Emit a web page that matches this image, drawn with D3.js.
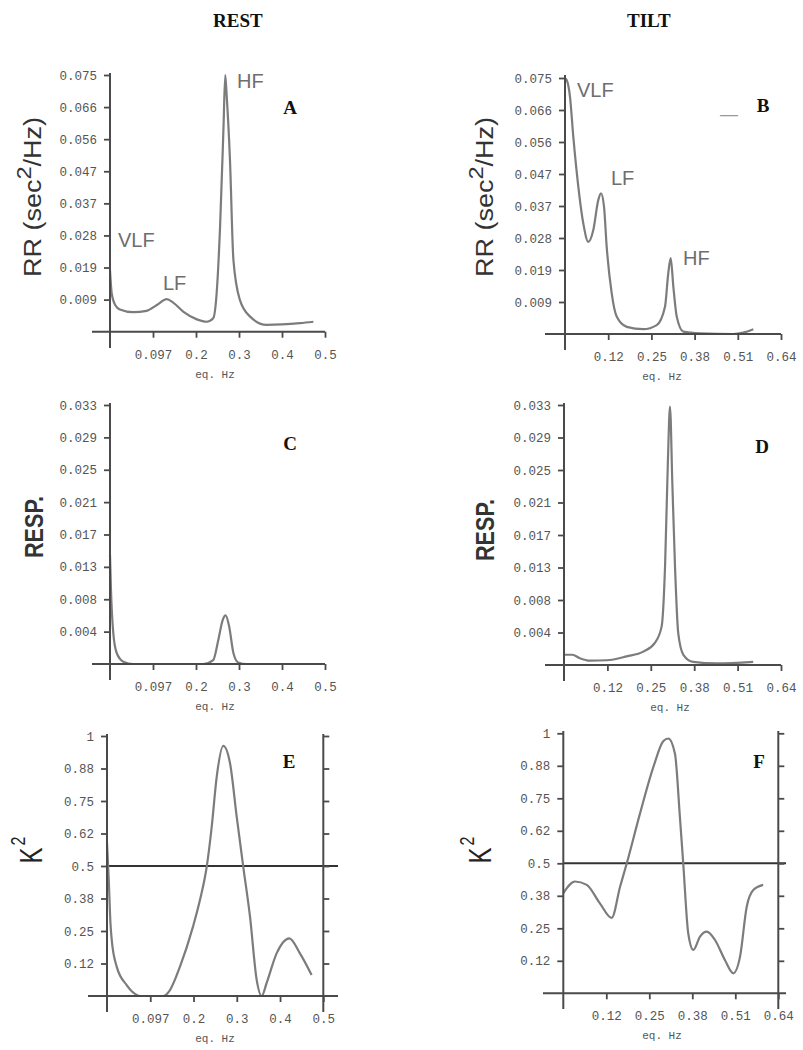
<!DOCTYPE html>
<html><head><meta charset="utf-8">
<script src="https://cdn.jsdelivr.net/npm/d3@7/dist/d3.min.js"></script>
<style>body{margin:0;background:#fff}</style>
</head><body>
<svg id="chart" width="803" height="1050"></svg>
<script>
// ---------------- DATA ----------------
const columnTitles = ["REST", "TILT"];
const panelLetters = ["A", "B", "C", "D", "E", "F"];

const restFreqMax = 0.5;
const tiltFreqMax = 0.64;
const restXTickLabels = ["0.097", "0.2", "0.3", "0.4", "0.5"];
const tiltXTickLabels = ["0.12", "0.25", "0.38", "0.51", "0.64"];

const rrMax = 0.075;
const rrYTickLabels = ["0.009", "0.019", "0.028", "0.037", "0.047", "0.056", "0.066", "0.075"];
const respMax = 0.033;
const respYTickLabels = ["0.004", "0.008", "0.013", "0.017", "0.021", "0.025", "0.029", "0.033"];
const k2Max = 1;
const k2YTickLabels = ["0.12", "0.25", "0.38", "0.5", "0.62", "0.75", "0.88", "1"];
const k2Threshold = 0.5;

// A: RR spectrum, rest
const rrRestFreq = [0, 0.004, 0.012, 0.023, 0.054, 0.085, 0.109, 0.132, 0.147, 0.171, 0.202, 0.225, 0.240, 0.248, 0.256, 0.264, 0.268, 0.271, 0.279, 0.287, 0.302, 0.326, 0.364, 0.442, 0.473];
const rrRestVal  = [0.018, 0.0112, 0.0078, 0.0065, 0.0057, 0.0061, 0.0078, 0.0095, 0.0085, 0.0058, 0.0036, 0.0029, 0.0039, 0.0112, 0.0307, 0.0599, 0.075, 0.0697, 0.0502, 0.021, 0.0093, 0.0044, 0.002, 0.0025, 0.0029];
// B: RR spectrum, tilt
const rrTiltFreq = [0, 0.005, 0.0148, 0.0246, 0.0394, 0.0542, 0.069, 0.0839, 0.0987, 0.1067, 0.1156, 0.1235, 0.1384, 0.1532, 0.1828, 0.232, 0.2717, 0.2963, 0.306, 0.3132, 0.321, 0.331, 0.3505, 0.4, 0.4987, 0.528, 0.558];
const rrTiltVal  = [0.0749, 0.0744, 0.0695, 0.0578, 0.0432, 0.0324, 0.027, 0.0305, 0.0393, 0.0412, 0.0373, 0.0256, 0.0119, 0.0051, 0.0021, 0.0014, 0.0026, 0.008, 0.0178, 0.0222, 0.0139, 0.0051, 0.0007, 0.0002, 0, 0.0004, 0.0014];
// C: respiration spectrum, rest
const respRestFreq = [0, 0.0023, 0.0077, 0.0156, 0.031, 0.054, 0.217, 0.240, 0.252, 0.262, 0.269, 0.277, 0.287, 0.298, 0.318, 0.33];
const respRestVal  = [0.0139, 0.0094, 0.0039, 0.0014, 0.0003, 0, 0, 0.0005, 0.0031, 0.0056, 0.0062, 0.0048, 0.0014, 0.0002, 0, 0];
// D: respiration spectrum, tilt
const respTiltFreq = [0, 0.025, 0.045, 0.0767, 0.126, 0.185, 0.234, 0.268, 0.288, 0.298, 0.306, 0.3126, 0.3195, 0.3274, 0.337, 0.352, 0.381, 0.450, 0.558];
const respTiltVal  = [0.0013, 0.0013, 0.0009, 0.00055, 0.0006, 0.0011, 0.0017, 0.0028, 0.0049, 0.0125, 0.0252, 0.0328, 0.0231, 0.0125, 0.004, 0.0013, 0.0004, 0.0002, 0.0004];
// E: coherence K2, rest
const k2RestFreq = [0, 0.004, 0.008, 0.011, 0.0224, 0.0455, 0.0647, 0.0763, 0.129, 0.1456, 0.1687, 0.1988, 0.215, 0.2305, 0.242, 0.2536, 0.2688, 0.2843, 0.2998, 0.315, 0.3306, 0.346, 0.3576, 0.369, 0.3923, 0.4214, 0.446, 0.473];
const k2RestVal  = [0.59, 0.45, 0.28, 0.215, 0.113, 0.042, 0.008, 0, 0, 0.023, 0.113, 0.267, 0.37, 0.497, 0.65, 0.843, 0.962, 0.896, 0.69, 0.497, 0.305, 0.062, 0, 0.05, 0.165, 0.222, 0.164, 0.081];
// F: coherence K2, tilt
const k2TiltFreq = [0, 0.0348, 0.0697, 0.109, 0.144, 0.169, 0.189, 0.228, 0.268, 0.298, 0.3126, 0.3325, 0.347, 0.357, 0.372, 0.387, 0.407, 0.427, 0.4516, 0.481, 0.506, 0.526, 0.546, 0.5656, 0.595];
const k2TiltVal  = [0.385, 0.43, 0.417, 0.346, 0.29, 0.41, 0.5, 0.69, 0.87, 0.97, 0.98, 0.92, 0.68, 0.5, 0.23, 0.167, 0.218, 0.237, 0.205, 0.128, 0.077, 0.14, 0.333, 0.397, 0.417];

// ---------------- LAYOUT ----------------
const svg = d3.select("#chart");
svg.append("rect").attr("width", 803).attr("height", 1050).attr("fill", "#fff");

const tickFont = "'Liberation Mono', 'DejaVu Sans Mono', monospace";
const axisColor = "#4a4a4a";
const curveColor = "#7c7c7c";

const panels = [
  {letter: panelLetters[0], freq: rrRestFreq, val: rrRestVal, xMax: restFreqMax, xLabels: restXTickLabels, yMax: rrMax, yLabels: rrYTickLabels,
   x0: 110, x1: 325, yBase: 331.7, yTop: 75, axTop: 73, axBot: 348, axLeft: 92, axRight: 325, right: false,
   eqX: 215, letterX: 290, letterY: 114, ylab: "rr", ylabX: 33, ylabY: 197},
  {letter: panelLetters[1], freq: rrTiltFreq, val: rrTiltVal, xMax: tiltFreqMax, xLabels: tiltXTickLabels, yMax: rrMax, yLabels: rrYTickLabels,
   x0: 565, x1: 781, yBase: 334, yTop: 78, axTop: 75, axBot: 350, axLeft: 545, axRight: 781, right: false,
   eqX: 662, letterX: 763, letterY: 112, ylab: "rr", ylabX: 485, ylabY: 197},
  {letter: panelLetters[2], freq: respRestFreq, val: respRestVal, xMax: restFreqMax, xLabels: restXTickLabels, yMax: respMax, yLabels: respYTickLabels,
   x0: 110, x1: 325, yBase: 664, yTop: 405, axTop: 403, axBot: 680, axLeft: 92, axRight: 325, right: false,
   eqX: 215, letterX: 290, letterY: 450, ylab: "resp", ylabX: 34, ylabY: 527},
  {letter: panelLetters[3], freq: respTiltFreq, val: respTiltVal, xMax: tiltFreqMax, xLabels: tiltXTickLabels, yMax: respMax, yLabels: respYTickLabels,
   x0: 564, x1: 781, yBase: 665, yTop: 405, axTop: 403, axBot: 681, axLeft: 545, axRight: 781, right: false,
   eqX: 670, letterX: 762, letterY: 453, ylab: "resp", ylabX: 485, ylabY: 530},
  {letter: panelLetters[4], freq: k2RestFreq, val: k2RestVal, xMax: restFreqMax, xLabels: restXTickLabels, yMax: k2Max, yLabels: k2YTickLabels,
   x0: 107, x1: 323.3, yBase: 996, yTop: 736, axTop: 734, axBot: 1012, axLeft: 88, axRight: 338, right: true,
   eqX: 215, letterX: 289, letterY: 768, ylab: "k2", ylabX: 31, ylabY: 850},
  {letter: panelLetters[5], freq: k2TiltFreq, val: k2TiltVal, xMax: tiltFreqMax, xLabels: tiltXTickLabels, yMax: k2Max, yLabels: k2YTickLabels,
   x0: 563.3, x1: 778.3, yBase: 993.3, yTop: 733.3, axTop: 731, axBot: 1009, axLeft: 543, axRight: 786, right: true,
   eqX: 662, letterX: 759, letterY: 768, ylab: "k2", ylabX: 480, ylabY: 850}
];

// column titles
svg.append("text").attr("x", 213).attr("y", 27).text(columnTitles[0])
  .attr("font-family", "'Liberation Serif', 'Times New Roman', serif").attr("font-weight", "bold").attr("font-size", 19).attr("fill", "#111");
svg.append("text").attr("x", 627).attr("y", 27).text(columnTitles[1])
  .attr("font-family", "'Liberation Serif', 'Times New Roman', serif").attr("font-weight", "bold").attr("font-size", 19).attr("fill", "#111");

function yLabel(p) {
  const g = svg.append("g");
  if (p.ylab === "rr") {
    g.attr("transform", `translate(${p.ylabX},${p.ylabY}) rotate(-90)`);
    const t = g.append("text").attr("text-anchor", "middle").attr("y", 8)
      .attr("font-family", "'Liberation Sans', Arial, sans-serif").attr("font-size", 23).attr("fill", "#333")
      .attr("textLength", 160).attr("lengthAdjust", "spacingAndGlyphs");
    t.append("tspan").text("RR  (sec");
    t.append("tspan").attr("font-size", 20).attr("dy", -10).text("2");
    t.append("tspan").attr("dy", 10).text("/Hz)");
  } else if (p.ylab === "resp") {
    g.attr("transform", `translate(${p.ylabX},${p.ylabY}) rotate(-90) scale(1,1.25)`);
    g.append("text").attr("text-anchor", "middle").attr("y", 7)
      .attr("font-family", "'Liberation Sans', Arial, sans-serif").attr("font-weight", "bold").attr("font-size", 20).attr("fill", "#333")
      .attr("textLength", 62).attr("lengthAdjust", "spacingAndGlyphs").text("RESP.");
  } else {
    g.attr("transform", `translate(${p.ylabX},${p.ylabY}) rotate(-90) scale(1,1.3)`);
    const t = g.append("text").attr("text-anchor", "middle").attr("y", 8.5)
      .attr("font-family", "'Liberation Sans', Arial, sans-serif").attr("font-size", 24).attr("fill", "#222");
    t.append("tspan").text("K");
    t.append("tspan").attr("font-size", 16).attr("dy", -13).attr("dx", 2).text("2");
  }
}

panels.forEach((p, idx) => {
  const x = d3.scaleLinear().domain([0, p.xMax]).range([p.x0, p.x1]);
  const y = d3.scaleLinear().domain([0, p.yMax]).range([p.yBase, p.yTop]);
  const xTicks = p.xLabels.map((_, i) => p.xMax * (i + 1) / p.xLabels.length);
  const yTicks = p.yLabels.map((_, i) => p.yMax * (i + 1) / p.yLabels.length);
  const g = svg.append("g");

  // threshold line for coherence panels
  if (p.right) {
    g.append("line").attr("x1", x(0)).attr("x2", p.axRight).attr("y1", y(k2Threshold)).attr("y2", y(k2Threshold))
      .attr("stroke", "#333").attr("stroke-width", 2);
  }

  // curve
  const pts = p.freq.map((f, i) => [f, p.val[i]]);
  g.append("path").datum(pts)
    .attr("d", d3.line().x(d => x(d[0])).y(d => y(d[1])).curve(d3.curveMonotoneX))
    .attr("fill", "none").attr("stroke", curveColor).attr("stroke-width", 2.2).attr("stroke-linejoin", "round");

  // x axis
  const xa = g.append("g").attr("transform", `translate(0,${p.yBase})`)
    .call(d3.axisBottom(x).tickValues(xTicks).tickFormat((d, i) => p.xLabels[i]).tickSize(6).tickPadding(12));
  xa.select(".domain").remove();
  xa.selectAll("line").attr("stroke", axisColor).attr("stroke-width", 1.8);
  xa.selectAll("text").attr("font-family", tickFont).attr("font-size", 12.5).attr("fill", "#555");
  g.append("line").attr("x1", p.axLeft).attr("x2", p.axRight).attr("y1", p.yBase).attr("y2", p.yBase)
    .attr("stroke", axisColor).attr("stroke-width", 2);

  // y axis (left)
  const ya = g.append("g").attr("transform", `translate(${p.x0},0)`)
    .call(d3.axisLeft(y).tickValues(yTicks).tickFormat((d, i) => p.yLabels[i]).tickSize(6).tickPadding(7));
  ya.select(".domain").remove();
  ya.selectAll("line").attr("stroke", axisColor).attr("stroke-width", 1.8);
  ya.selectAll("text").attr("font-family", tickFont).attr("font-size", 12.5).attr("fill", "#555");
  g.append("line").attr("x1", p.x0).attr("x2", p.x0).attr("y1", p.axTop).attr("y2", p.axBot)
    .attr("stroke", axisColor).attr("stroke-width", 2);

  // right axis for coherence panels
  if (p.right) {
    const yr = g.append("g").attr("transform", `translate(${p.x1},0)`)
      .call(d3.axisRight(y).tickValues(yTicks).tickFormat("").tickSize(6));
    yr.select(".domain").remove();
    yr.selectAll("line").attr("stroke", axisColor).attr("stroke-width", 1.8);
    g.append("line").attr("x1", p.x1).attr("x2", p.x1).attr("y1", p.axTop).attr("y2", p.axBot)
      .attr("stroke", axisColor).attr("stroke-width", 2);
  }

  // "eq. Hz"
  g.append("text").attr("x", p.eqX).attr("y", p.yBase + 46).attr("text-anchor", "middle")
    .attr("font-family", tickFont).attr("font-size", 11).attr("fill", "#555").text("eq. Hz");

  // panel letter
  g.append("text").attr("x", p.letterX).attr("y", p.letterY).attr("text-anchor", "middle")
    .attr("font-family", "'Liberation Serif', 'Times New Roman', serif").attr("font-weight", "bold")
    .attr("font-size", 19).attr("fill", "#111").text(p.letter);

  yLabel(p);
});

// band annotations
const bandFont = "'Liberation Sans', Arial, sans-serif";
const bandLabels = [
  {t: "VLF", x: 118, y: 247}, {t: "LF", x: 163, y: 290}, {t: "HF", x: 237, y: 88},
  {t: "VLF", x: 577, y: 97}, {t: "LF", x: 611, y: 185}, {t: "HF", x: 683, y: 265}
];
bandLabels.forEach(b => svg.append("text").attr("x", b.x).attr("y", b.y).text(b.t)
  .attr("font-family", bandFont).attr("font-size", 20).attr("fill", "#6e6e6e"));

// stray mark in panel B
svg.append("text").attr("x", 729).attr("y", 120).attr("text-anchor", "middle").text("—")
  .attr("font-family", bandFont).attr("font-size", 18).attr("fill", "#999");
</script>
</body></html>
